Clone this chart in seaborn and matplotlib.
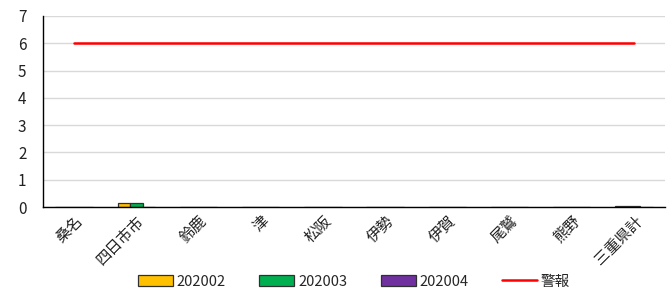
import matplotlib
matplotlib.use("Agg")
import matplotlib.pyplot as plt
import seaborn as sns
import pandas as pd
import numpy as np

categories = ['桑名', '四日市市', '鈴鹿', '津', '松阪', '伊勢', '伊賀', '尾鷲', '熊野', '三重県計']
s202002 = [0, 0.15, 0, 0, 0, 0, 0, 0, 0, 0.02]
s202003 = [0, 0.15, 0, 0, 0, 0, 0, 0, 0, 0.02]
s202004 = [0, 0, 0, 0, 0, 0, 0, 0, 0, 0]
alert = [6, 6, 6, 6, 6, 6, 6, 6, 6, 6]
series_names = ['202002', '202003', '202004']
colors = ['#FFC000', '#00B050', '#7030A0']

sns.set_theme(style="white")
plt.rcParams['font.family'] = ['Noto Sans CJK JP', 'DejaVu Sans']

df = pd.DataFrame({
    'cat': categories * 3,
    'val': s202002 + s202003 + s202004,
    'series': sum([[n] * len(categories) for n in series_names], []),
})

fig = plt.figure(figsize=(6.69, 2.94), dpi=100)
ax = fig.add_axes([43 / 669, 1 - 207 / 294, 622 / 669, 191 / 294])

sns.barplot(data=df, x='cat', y='val', hue='series', palette=colors, ax=ax,
            width=0.6, edgecolor='#303030', linewidth=0.9, saturation=1,
            legend=True)
ax.plot(np.arange(len(categories)), alert, color='#FF0000', lw=1.8, label='警報', zorder=3)

ax.set_ylim(0, 7)
ax.set_xlim(-0.5, len(categories) - 0.5)
ax.set_yticks(range(0, 8))
ax.yaxis.grid(True, color='#D9D9D9', lw=1)
ax.set_axisbelow(True)
for s in ['top', 'right']:
    ax.spines[s].set_visible(False)
ax.spines['left'].set_color('black')
ax.spines['bottom'].set_color('black')
ax.spines['left'].set_linewidth(1)
ax.spines['bottom'].set_linewidth(1)
ax.set_xlabel('')
ax.set_ylabel('')
ax.tick_params(axis='both', length=0, colors='#222222')
ax.tick_params(axis='y', pad=12, labelsize=11)
ax.tick_params(axis='x', pad=4)
plt.setp(ax.get_xticklabels(), rotation=45, ha='right', rotation_mode='anchor', fontsize=11)

handles, labels = ax.get_legend_handles_labels()
ax.legend(handles, labels, loc='upper center', bbox_to_anchor=(0.5, -0.285), ncol=4,
          frameon=False, fontsize=10.5, handlelength=2.4, handleheight=0.7,
          columnspacing=2.3, handletextpad=0.25)

fig.savefig('out.png', dpi=100)
